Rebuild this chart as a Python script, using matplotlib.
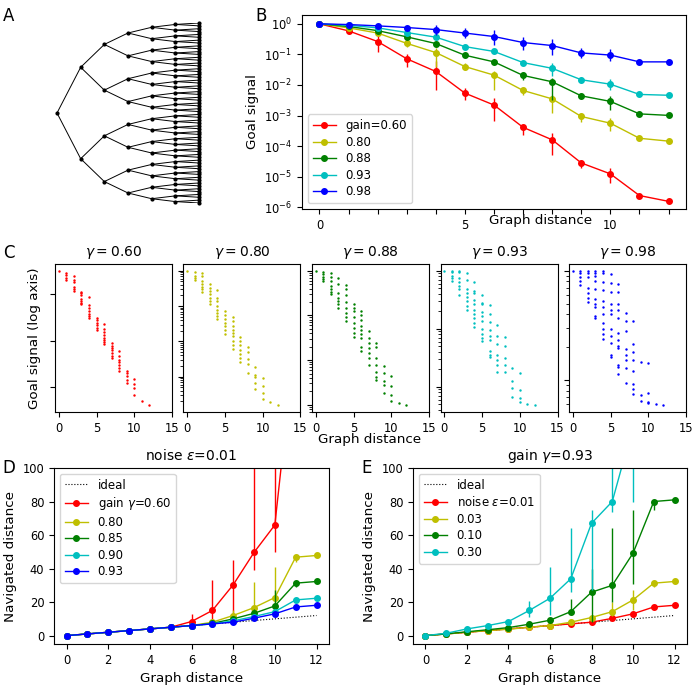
import numpy as np
import matplotlib
matplotlib.use('Agg')
import matplotlib.pyplot as plt
from matplotlib.collections import LineCollection
from matplotlib.ticker import FixedLocator, NullLocator, NullFormatter, LogFormatterSciNotation

plt.rcParams.update({
    'font.size': 10,
    'axes.titlesize': 10,
    'axes.labelsize': 9.7,
    'xtick.labelsize': 8.3,
    'ytick.labelsize': 8.3,
    'legend.fontsize': 8.5,
    'legend.labelspacing': 0.3,
})

W, H = 696, 688

def pos(l, t, r, b):
    return [l / W, 1 - b / H, (r - l) / W, (b - t) / H]

dist = np.arange(13)
tree_depth = 6

# ---------------- Panel B data ----------------
b_labels = ['gain=0.60', '0.80', '0.88', '0.93', '0.98']
b_colors = ['r', 'y', 'g', 'c', 'b']
b_mean_060 = [1.0, 0.59, 0.264, 0.072, 0.0276, 0.0054, 0.0022, 4.1e-4, 1.6e-4, 2.8e-5, 1.23e-5, 2.4e-6, 1.55e-6]
b_lo_060 = [1.0, 0.46, 0.124, 0.040, 0.0069, 0.0032, 6.4e-4, 2.3e-4, 5.2e-5, 1.9e-5, 6.1e-6, 2.4e-6, 1.55e-6]
b_hi_060 = [1.0, 0.72, 0.40, 0.104, 0.059, 0.0079, 0.0037, 5.0e-4, 2.6e-4, 3.5e-5, 1.9e-5, 2.4e-6, 1.55e-6]
b_mean_080 = [1.0, 0.74, 0.50, 0.23, 0.115, 0.040, 0.021, 0.0066, 0.0035, 9.3e-4, 5.6e-4, 1.8e-4, 1.45e-4]
b_lo_080 = [1.0, 0.74, 0.50, 0.18, 0.040, 0.031, 0.0069, 0.0048, 0.0012, 6.3e-4, 3.0e-4, 1.8e-4, 1.45e-4]
b_hi_080 = [1.0, 0.74, 0.50, 0.27, 0.16, 0.051, 0.0276, 0.0079, 0.0048, 0.0012, 8.2e-4, 1.8e-4, 1.45e-4]
b_mean_088 = [1.0, 0.82, 0.60, 0.376, 0.227, 0.094, 0.057, 0.0205, 0.0127, 0.0044, 0.0029, 0.00113, 0.00101]
b_lo_088 = [1.0, 0.82, 0.60, 0.376, 0.227, 0.080, 0.057, 0.0148, 0.0033, 0.0034, 0.00155, 0.00113, 0.00101]
b_hi_088 = [1.0, 0.82, 0.60, 0.376, 0.227, 0.110, 0.057, 0.026, 0.0167, 0.0054, 0.0042, 0.00113, 0.00101]
b_mean_093 = [1.0, 0.90, 0.74, 0.52, 0.367, 0.18, 0.125, 0.054, 0.035, 0.0148, 0.0106, 0.0049, 0.0046]
b_lo_093 = [1.0, 0.90, 0.74, 0.52, 0.367, 0.18, 0.125, 0.054, 0.020, 0.0115, 0.0069, 0.0049, 0.0046]
b_hi_093 = [1.0, 0.90, 0.74, 0.52, 0.367, 0.18, 0.125, 0.054, 0.054, 0.018, 0.016, 0.0049, 0.0046]
b_mean_098 = [1.0, 0.95, 0.86, 0.76, 0.65, 0.50, 0.385, 0.245, 0.195, 0.112, 0.095, 0.057, 0.057]
b_lo_098 = [1.0, 0.95, 0.86, 0.76, 0.44, 0.34, 0.20, 0.14, 0.097, 0.075, 0.063, 0.057, 0.057]
b_hi_098 = [1.0, 0.95, 0.86, 0.76, 0.93, 0.72, 0.64, 0.37, 0.31, 0.16, 0.148, 0.057, 0.057]

# ---------------- Panel C data (log10 of goal signal per node, per distance) ----------------
c_titles = [r'$\gamma=0.60$', r'$\gamma=0.80$', r'$\gamma=0.88$', r'$\gamma=0.93$', r'$\gamma=0.98$']
c_log_060 = [
    [0.0],
    [-0.09, -0.20, -0.30, -0.39],
    [-0.23, -0.39, -0.49, -0.71, -0.78, -0.86],
    [-0.90, -0.97, -1.04, -1.22, -1.29, -1.39, -1.43],
    [-1.14, -1.48, -1.58, -1.72, -1.84, -1.94, -2.01],
    [-2.04, -2.13, -2.23, -2.35, -2.45, -2.55],
    [-2.28, -2.52, -2.62, -2.74, -2.88, -2.99, -3.06, -3.14],
    [-3.10, -3.22, -3.32, -3.42, -3.54, -3.65, -3.75],
    [-3.46, -3.68, -3.83, -3.94, -4.07, -4.19, -4.29],
    [-4.30, -4.41, -4.51, -4.70, -4.84],
    [-4.67, -4.87, -5.03, -5.35],
    [-5.58],
    [-5.78],
]
c_log_080 = [
    [0.0],
    [-0.05, -0.14, -0.21, -0.27],
    [-0.07, -0.14, -0.30, -0.38, -0.46, -0.52, -0.60],
    [-0.38, -0.48, -0.57, -0.67, -0.76, -0.86, -0.95],
    [-0.55, -0.76, -0.86, -1.00, -1.10, -1.19, -1.29, -1.38],
    [-1.14, -1.24, -1.38, -1.48, -1.57, -1.67, -1.79],
    [-1.31, -1.43, -1.57, -1.67, -1.76, -1.86, -1.98, -2.10, -2.21],
    [-1.89, -2.00, -2.11, -2.24, -2.36, -2.48, -2.59],
    [-2.17, -2.30, -2.50, -2.65, -2.90],
    [-2.74, -2.95, -3.00, -3.19, -3.35],
    [-3.03, -3.27, -3.45, -3.64],
    [-3.71],
    [-3.81],
]
c_log_088 = [
    [0.0],
    [-0.02, -0.08, -0.14, -0.19, -0.23],
    [-0.04, -0.15, -0.23, -0.34, -0.41, -0.47, -0.53],
    [-0.17, -0.30, -0.49, -0.60, -0.68, -0.75, -0.83],
    [-0.32, -0.41, -0.54, -0.71, -0.83, -0.94, -1.04, -1.13],
    [-0.75, -0.83, -0.90, -1.04, -1.17, -1.29, -1.39, -1.49],
    [-0.89, -0.99, -1.11, -1.23, -1.32, -1.41, -1.50, -1.71, -1.80],
    [-1.35, -1.50, -1.62, -1.73, -1.84, -1.95, -2.11],
    [-1.62, -1.71, -1.95, -2.12, -2.26, -2.37, -2.44],
    [-2.14, -2.29, -2.47, -2.56, -2.74],
    [-2.35, -2.59, -2.78, -2.91],
    [-2.95],
    [-3.01],
]
c_log_093 = [
    [0.0],
    [-0.01, -0.03, -0.09, -0.13, -0.17],
    [-0.01, -0.03, -0.13, -0.20, -0.26, -0.32, -0.42],
    [-0.04, -0.16, -0.32, -0.38, -0.46, -0.52, -0.61, -0.67],
    [-0.19, -0.35, -0.39, -0.51, -0.57, -0.67, -0.75, -0.81, -0.90, -0.97],
    [-0.41, -0.55, -0.58, -0.72, -0.78, -0.87, -1.01, -1.09, -1.16, -1.21],
    [-0.59, -0.74, -0.89, -1.03, -1.13, -1.19, -1.39, -1.45, -1.49],
    [-0.93, -1.13, -1.26, -1.45, -1.54, -1.62, -1.74],
    [-1.15, -1.29, -1.50, -1.63, -1.74],
    [-1.68, -1.91, -2.02, -2.17],
    [-1.77, -2.06, -2.20, -2.27],
    [-2.29],
    [-2.32],
]
c_log_098 = [
    [0.0],
    [0.0, -0.02, -0.06, -0.09, -0.13],
    [0.0, -0.02, -0.06, -0.16, -0.20, -0.25, -0.29],
    [0.0, -0.02, -0.05, -0.09, -0.17, -0.26, -0.30, -0.33, -0.41, -0.43],
    [0.0, -0.02, -0.10, -0.18, -0.28, -0.33, -0.40, -0.48, -0.53, -0.58, -0.62],
    [-0.03, -0.11, -0.19, -0.30, -0.36, -0.40, -0.53, -0.60, -0.66, -0.77, -0.79],
    [-0.12, -0.19, -0.30, -0.36, -0.43, -0.57, -0.63, -0.69, -0.71, -0.86, -0.88, -0.94],
    [-0.39, -0.46, -0.55, -0.72, -0.77, -0.82, -0.89, -1.03],
    [-0.46, -0.67, -0.74, -0.82, -0.92, -1.04, -1.08, -1.13],
    [-0.83, -1.14, -1.19],
    [-0.84, -1.12, -1.20, -1.21],
    [-1.22],
    [-1.23],
]
c_data = [c_log_060, c_log_080, c_log_088, c_log_093, c_log_098]
c_major = [[1e-1, 1e-3, 1e-5], [1, 1e-1, 1e-2, 1e-3], [1, 1e-1, 1e-2, 1e-3], [1, 1e-1, 1e-2], [1, 1e-1]]
c_show_minor = [False, True, True, True, True]

# ---------------- Panel D data ----------------
d_labels = [r'gain $\gamma$=0.60', '0.80', '0.85', '0.90', '0.93']
d_colors = ['r', 'y', 'g', 'c', 'b']
d_mean_060 = [0, 1, 2, 3, 4, 5, 8.4, 15, 30.3, 49.6, 66, 180, 250]
d_lo_060 = [0, 1, 2, 3, 4, 5, 6, 7, 9, 39, 50, 180, 250]
d_hi_060 = [0, 1, 2, 3, 4, 5, 13, 33, 45, 150, 180, 180, 250]
d_mean_080 = [0, 1, 2, 3, 4, 5, 6, 8, 12, 16.7, 22.7, 46.8, 47.8]
d_lo_080 = [0, 1, 2, 3, 4, 5, 6, 8, 10, 12, 16, 44, 47.8]
d_hi_080 = [0, 1, 2, 3, 4, 5, 6, 8, 15, 31.7, 41, 47.5, 47.8]
d_mean_085 = [0, 1, 2, 3, 4, 5, 6, 7.3, 10, 13.3, 17.7, 31.3, 32.3]
d_lo_085 = [0, 1, 2, 3, 4, 5, 6, 7.3, 10, 11, 14, 29, 32.3]
d_hi_085 = [0, 1, 2, 3, 4, 5, 6, 7.3, 10, 16, 27, 32, 32.3]
d_mean_090 = [0, 1, 2, 3, 4, 5, 6, 7, 8.8, 11.4, 14.3, 21.3, 22.3]
d_lo_090 = [0, 1, 2, 3, 4, 5, 6, 7, 8.8, 11.4, 12, 21.3, 22.3]
d_hi_090 = [0, 1, 2, 3, 4, 5, 6, 7, 8.8, 11.4, 16, 21.3, 22.3]
d_mean_093 = [0, 1, 2, 3, 4, 5, 6, 7, 8, 10.4, 13, 17.1, 18.1]

# ---------------- Panel E data ----------------
e_labels = [r'noise $\varepsilon$=0.01', '0.03', '0.10', '0.30']
e_colors = ['r', 'y', 'g', 'c']
e_mean_001 = [0, 1, 2, 3, 4, 5, 6, 7, 8, 10.3, 13, 17.1, 18.1]
e_mean_003 = [0, 1, 2, 3, 3.8, 5, 6, 8, 10.8, 14.3, 21.3, 31.3, 32.3]
e_lo_003 = [0, 1, 2, 3, 3.8, 5, 6, 8, 10.8, 12, 15, 29, 32.3]
e_hi_003 = [0, 1, 2, 3, 3.8, 5, 6, 8, 10.8, 20, 27.3, 32, 32.3]
e_mean_010 = [0, 1, 2.3, 3.5, 4.8, 6.8, 9.2, 14.3, 25.9, 30, 49.2, 80, 81]
e_lo_010 = [0, 1, 2.3, 3.5, 4.8, 6.8, 8, 12.5, 8, 20, 31, 75, 81]
e_hi_010 = [0, 1, 2.3, 3.5, 4.8, 6.8, 10.5, 22, 40, 64.5, 75, 81, 81]
e_mean_030 = [0, 1.4, 4, 6, 8.4, 15, 22.3, 33.9, 67, 80, 125, 170, 200]
e_lo_030 = [0, 1.4, 2, 6, 8.4, 11.4, 12.4, 26, 27, 74, 80, 170, 200]
e_hi_030 = [0, 1.4, 6, 6, 8.4, 20.7, 41, 64, 75, 130, 170, 170, 200]

# ================= Figure =================
fig = plt.figure(figsize=(W / 100, H / 100), dpi=100)

# ---- Panel A: binary tree ----
axA = fig.add_axes(pos(57, 23, 199, 203))
segs = []
node_x, node_y = [], []
for k in range(tree_depth + 1):
    n = 2 ** k
    ys = (np.arange(n) + 0.5) * 2 ** (tree_depth - k) - 0.5
    node_x.extend([k] * n)
    node_y.extend(ys)
    if k < tree_depth:
        ys_child = (np.arange(2 * n) + 0.5) * 2 ** (tree_depth - k - 1) - 0.5
        for j in range(n):
            for c in (2 * j, 2 * j + 1):
                segs.append([(k, ys[j]), (k + 1, ys_child[c])])
axA.add_collection(LineCollection(segs, colors='k', linewidths=0.7))
axA.plot(node_x, node_y, 'k.', ms=4, clip_on=False)
axA.set_xlim(0, tree_depth)
axA.set_ylim(2 ** tree_depth - 1, 0)
axA.axis('off')

# ---- Panel B ----
axB = fig.add_axes(pos(302, 15, 686, 209))
b_sets = [(b_mean_060, b_lo_060, b_hi_060), (b_mean_080, b_lo_080, b_hi_080),
          (b_mean_088, b_lo_088, b_hi_088), (b_mean_093, b_lo_093, b_hi_093),
          (b_mean_098, b_lo_098, b_hi_098)]
for (m, lo, hi), lab, col in zip(b_sets, b_labels, b_colors):
    m, lo, hi = np.array(m), np.array(lo), np.array(hi)
    axB.errorbar(dist, m, yerr=[m - lo, hi - m], fmt='none', ecolor=col, elinewidth=1, capsize=0)
    axB.plot(dist, m, '-o', color=col, ms=4, lw=1, label=lab)
axB.set_yscale('log')
axB.set_ylim(10 ** -6.06, 10 ** 0.29)
axB.yaxis.set_major_locator(FixedLocator([10.0 ** e for e in range(-6, 1)]))
axB.yaxis.set_major_formatter(LogFormatterSciNotation())
axB.yaxis.set_minor_locator(NullLocator())
axB.set_xticks(dist)
axB.set_xticklabels([str(d) if d % 5 == 0 else '' for d in dist])
axB.set_ylabel('Goal signal')
axB.set_xlabel('Graph distance')
axB.xaxis.set_label_coords(0.62, -0.025)
axB.legend(loc='lower left')

# ---- Panel C ----
c_lefts = [55, 183.5, 312, 440.5, 569]
for i, (l, data, col, ttl) in enumerate(zip(c_lefts, c_data, b_colors, c_titles)):
    ax = fig.add_axes(pos(l, 264, l + 117, 412))
    xs, ys = [], []
    for d, vals in zip(dist, data):
        xs.extend([d] * len(vals))
        ys.extend(vals)
    ax.plot(xs, 10.0 ** np.array(ys), '.', color=col, ms=3.5, mew=0, ls='none')
    ax.set_yscale('log')
    ax.set_xlim(-0.5, 15)
    ax.set_xticks([0, 5, 10, 15])
    ax.yaxis.set_major_locator(FixedLocator(c_major[i]))
    if c_show_minor[i]:
        mins = []
        for e in range(-7, 1):
            mins.extend([s * 10.0 ** e for s in range(2, 10)])
        ax.yaxis.set_minor_locator(FixedLocator(mins))
    else:
        ax.yaxis.set_minor_locator(NullLocator())
    ax.yaxis.set_major_formatter(NullFormatter())
    ax.yaxis.set_minor_formatter(NullFormatter())
    ax.set_title(ttl)
    if i == 0:
        ax.set_ylabel('Goal signal (log axis)', labelpad=3)
fig.text(370 / W, 1 - 440 / H, 'Graph distance', ha='center', va='center', fontsize=9.7)

# ---- Panel D ----
axD = fig.add_axes(pos(54, 468, 329, 644))
axD.plot(dist, dist, ':', color='k', lw=0.8, label='ideal')
d_sets = [(d_mean_060, d_lo_060, d_hi_060), (d_mean_080, d_lo_080, d_hi_080),
          (d_mean_085, d_lo_085, d_hi_085), (d_mean_090, d_lo_090, d_hi_090),
          (d_mean_093, d_mean_093, d_mean_093)]
for (m, lo, hi), lab, col in zip(d_sets, d_labels, d_colors):
    m, lo, hi = np.array(m, float), np.array(lo, float), np.array(hi, float)
    axD.errorbar(dist, m, yerr=[m - lo, hi - m], fmt='none', ecolor=col, elinewidth=1, capsize=0)
    axD.plot(dist, m, '-o', color=col, ms=4, lw=1, label=lab)
axD.set_xlim(-0.6, 12.6)
axD.set_ylim(-5, 100)
axD.set_xticks(range(0, 13, 2))
axD.set_xlabel('Graph distance')
axD.set_ylabel('Navigated distance')
axD.set_title(r'noise $\varepsilon$=0.01')
axD.legend(loc='upper left')

# ---- Panel E ----
axE = fig.add_axes(pos(413, 468, 687, 644))
axE.plot(dist, dist, ':', color='k', lw=0.8, label='ideal')
e_sets = [(e_mean_001, e_mean_001, e_mean_001), (e_mean_003, e_lo_003, e_hi_003),
          (e_mean_010, e_lo_010, e_hi_010), (e_mean_030, e_lo_030, e_hi_030)]
for (m, lo, hi), lab, col in zip(e_sets, e_labels, e_colors):
    m, lo, hi = np.array(m, float), np.array(lo, float), np.array(hi, float)
    axE.errorbar(dist, m, yerr=[m - lo, hi - m], fmt='none', ecolor=col, elinewidth=1, capsize=0)
    axE.plot(dist, m, '-o', color=col, ms=4, lw=1, label=lab)
axE.set_xlim(-0.6, 12.6)
axE.set_ylim(-5, 100)
axE.set_xticks(range(0, 13, 2))
axE.set_xlabel('Graph distance')
axE.set_ylabel('Navigated distance')
axE.set_title(r'gain $\gamma$=0.93')
axE.legend(loc='upper left')

# ---- Panel letters ----
for letter, x, y in [('A', 3, 21), ('B', 255, 21), ('C', 3, 258), ('D', 2, 473), ('E', 361, 473)]:
    fig.text(x / W, 1 - y / H, letter, fontsize=12, va='baseline', ha='left')

fig.savefig('out.png', dpi=100)
